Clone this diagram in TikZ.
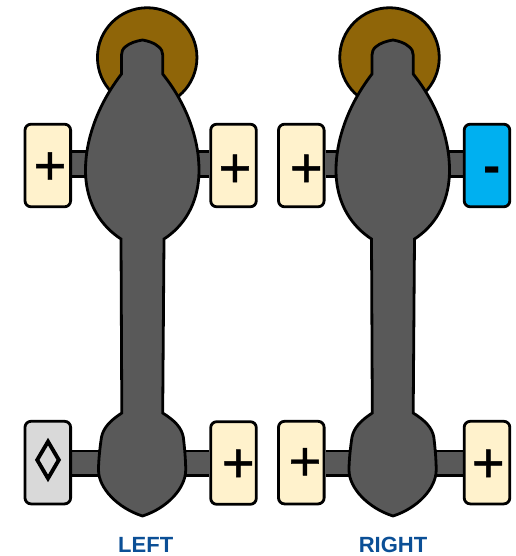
\documentclass[tikz,border=0pt]{standalone}
\usepackage{fontspec}
\setmainfont{Liberation Sans}
\newfontfamily\symfont[AutoFakeBold=3]{DejaVu Sans}
\newfontfamily\signfont[FakeBold=0.8]{Liberation Sans}
\usetikzlibrary{backgrounds}
\definecolor{bodygray}{HTML}{595959}
\definecolor{headbrown}{HTML}{8F6508}
\definecolor{cream}{HTML}{FFF2CC}
\definecolor{cyanbox}{HTML}{00B0F0}
\definecolor{lightbox}{HTML}{D9D9D9}
\definecolor{labelblue}{HTML}{0B4F96}
\tikzset{
  x=1pt,y=-1pt,
  outline/.style={draw=black,line width=2.8pt},
  head/.style={outline,circle,fill=headbrown,inner sep=0pt,minimum size=99.5pt},
  tile/.style={outline,rounded corners=6pt,inner sep=0pt,minimum width=45.6pt,minimum height=82.6pt},
  plustile/.style={tile,fill=cream},
  link/.style={draw=black,line width=2.8pt,double=bodygray,double distance=22pt},
  sign/.style={inner sep=0pt,yshift=-2.5pt,font=\signfont\fontsize{56}{56}\selectfont},
  minussign/.style={inner sep=0pt,font=\bfseries\fontsize{52}{52}\selectfont},
  side/.style={inner sep=0pt,text=labelblue,font=\bfseries\fontsize{22}{22}\selectfont},
  bone/.pic={
    \draw[outline,fill=bodygray,line join=miter]
      (0,40) .. controls (-6,41) and (-13,43) .. (-17,46.7)
      .. controls (-20,49) and (-21,52) .. (-21,55)
      -- (-21,74)
      .. controls (-45,105) and (-57,140) .. (-57,170)
      .. controls (-57,205) and (-40,227) .. (-21.5,239)
      -- (-20.7,413)
      .. controls (-33,421) and (-39,428) .. (-41,437)
      .. controls (-42.5,447) and (-44,460) .. (-44,470)
      .. controls (-44,488) and (-25,508) .. (0,516)
      .. controls (25,508) and (43.2,488) .. (43.2,470)
      .. controls (43.2,460) and (42,447) .. (40.8,437)
      .. controls (39,428) and (33,421) .. (20.2,413)
      -- (21.5,239)
      .. controls (40,227) and (56.5,205) .. (56.5,170)
      .. controls (56.5,140) and (45,105) .. (20.2,74)
      -- (20.2,55)
      .. controls (20.2,52) and (19,49) .. (16,46.7)
      .. controls (12,43) and (6,41) .. (0,40) -- cycle;
  },
}
\begin{document}
\begin{tikzpicture}
\useasboundingbox (0,0) rectangle (515,556);
\coordinate (ltop) at (142.5,164);
\coordinate (lbot) at (142.5,463.4);
\coordinate (rtop) at (393,164);
\coordinate (rbot) at (393,463.4);
\node[head] (lhead) at (147.2,57.5) {};
\node[head] (rhead) at (389.5,57.5) {};
\node[plustile] (ltl) at (47.8,165.5) {};
\node[plustile] (ltr) at (233.5,165.5) {};
\node[tile,fill=lightbox] (lbl) at (47.8,462.6) {};
\node[plustile] (lbr) at (233.5,463) {};
\node[plustile] (rtl) at (301.3,165.5) {};
\node[tile,fill=cyanbox] (rtr) at (487,165.5) {};
\node[plustile] (rbl) at (301.3,462.6) {};
\node[plustile] (rbr) at (487,462.6) {};
\begin{scope}[on background layer]
\draw[link] (ltl.east |- ltop) -- (ltop);
\draw[link] (ltr.west |- ltop) -- (ltop);
\draw[link] (lbl.east |- lbot) -- (lbot);
\draw[link] (lbr.west |- lbot) -- (lbot);
\draw[link] (rtl.east |- rtop) -- (rtop);
\draw[link] (rtr.west |- rtop) -- (rtop);
\draw[link] (rbl.east |- rbot) -- (rbot);
\draw[link] (rbr.west |- rbot) -- (rbot);
\end{scope}
\pic at (142.5,0) {bone};
\pic at (393,0) {bone};
\node[sign] (s1) at (50,166) {+};
\node[sign] (s2) at (235,168.3) {+};
\node[sign] (s3) at (238.3,463.3) {+};
\node[sign] (s4) at (306.3,168.3) {+};
\node[sign] (s5) at (305,461.7) {+};
\node[sign] (s6) at (488.3,463.3) {+};
\node[minussign] (s7) at (491.7,175) {-};
\node[inner sep=0pt,xscale=1.25,transform shape,font=\symfont\bfseries\fontsize{40}{40}\selectfont] (s8) at (48,460) {◊};
\node[side] (lleft) at (145.7,545) {LEFT};
\node[side] (lright) at (393,545) {RIGHT};
\end{tikzpicture}
\end{document}
